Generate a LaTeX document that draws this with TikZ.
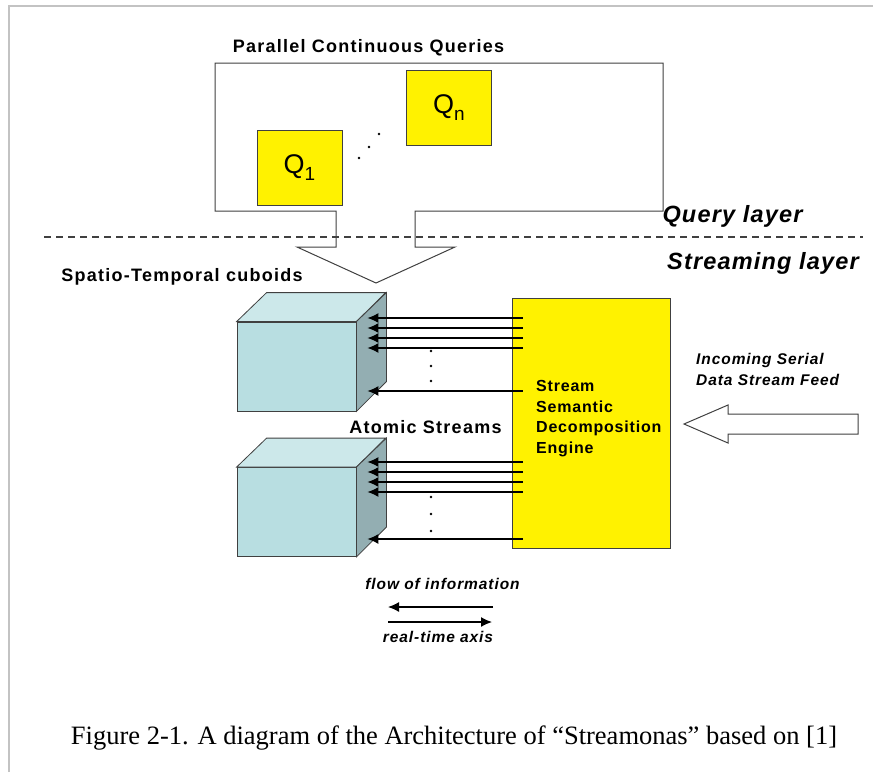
\documentclass[tikz,border=0pt]{standalone}
\usepackage{fontspec}
\setmainfont{Liberation Sans}
\newfontfamily\capfont{Liberation Serif}
\usetikzlibrary{arrows.meta}
\definecolor{cubefront}{HTML}{B8DEE1}
\definecolor{cubetop}{HTML}{CCE8EA}
\definecolor{cubeside}{HTML}{93AEB2}
\definecolor{edge}{HTML}{404040}
\definecolor{framegray}{HTML}{C3C3C3}
\tikzset{
  lbl/.style={inner sep=0pt, font=\fontsize{18}{21}\selectfont\bfseries\addfontfeature{LetterSpace=7}},
  layerlbl/.style={inner sep=0pt, font=\fontsize{23.5}{27}\selectfont\bfseries\itshape\addfontfeature{LetterSpace=5}},
  smalllbl/.style={inner sep=0pt, font=\fontsize{15.5}{21}\selectfont\bfseries\itshape\addfontfeature{LetterSpace=6}},
  enginelbl/.style={inner sep=0pt, align=left, font=\fontsize{16}{20.7}\selectfont\bfseries\addfontfeature{LetterSpace=5}},
  qbox/.style={draw=edge, line width=1pt, fill=yellow, minimum width=85pt, minimum height=75pt, inner sep=0pt},
  front/.style={draw=edge, line width=0.8pt, fill=cubefront, minimum width=119pt, minimum height=89pt, inner sep=0pt},
  stream/.style={line width=1.3pt, -{Latex[length=11pt,width=10pt]}},
  axis/.style={line width=1.3pt, -{Latex[length=11pt,width=10pt]}},
  dotmark/.style={fill=black, circle, inner sep=0pt, minimum size=2.8pt},
}
\begin{document}
\begin{tikzpicture}[x=1pt, y=-1pt]
\useasboundingbox (0,0) rectangle (873,772);
% frame
\draw[framegray, line width=2pt] (9,772) -- (9,6) -- (873,6);

% query layer
\node[lbl, anchor=base] (pcq) at (368.5,52) {Parallel Continuous Queries};
\draw[edge, line width=1pt, fill=white] (215,63) -- (663,63) -- (663,211) -- (415,211) -- (415,247) -- (455,247) -- (376,283) -- (297,247) -- (336,247) -- (336,211) -- (215,211) -- cycle;
\node[qbox] (q1) at (299.5,167.5) {};
\node[qbox] (qn) at (449,107.5) {};
\node (q1t) at (q1) {\fontsize{27}{27}\selectfont Q\raisebox{-7pt}{\fontsize{19}{19}\selectfont 1}};
\node (qnt) at (qn) {\fontsize{27}{27}\selectfont Q\raisebox{-7pt}{\fontsize{19}{19}\selectfont n}};
\node[dotmark] (qd1) at (359,158) {};
\node[dotmark] (qd2) at (369,147) {};
\node[dotmark] (qd3) at (379,134) {};

% layer separation
\draw[edge, line width=1.5pt, dash pattern=on 7pt off 5pt] (44,237) -- (863,237);
\node[layerlbl, anchor=base] (ql) at (732.5,222) {Query layer};
\node[layerlbl, anchor=base] (sl) at (763,269) {Streaming layer};

\node[lbl, anchor=base] (stc) at (182,281) {Spatio-Temporal cuboids};

% cubes
\node[front] (cubeA) at (296.5,366.5) {};
\node[front] (cubeB) at (296.5,512) {};
\foreach \c in {cubeA,cubeB}{
  \draw[edge, line width=0.8pt, fill=cubetop] (\c.north west) -- ++(30,-29) -- ++(119,0) -- (\c.north east) -- cycle;
  \draw[edge, line width=0.8pt, fill=cubeside] (\c.north east) -- ++(30,-29) -- ++(0,89) -- (\c.south east) -- cycle;
}

% engine
\node[draw=edge, line width=1pt, fill=yellow, minimum width=158pt, minimum height=250pt, inner sep=0pt] (engine) at (591,423) {};
\node[enginelbl, anchor=north west] (enginet) at (536,380) {Stream\\Semantic\\Decomposition\\Engine};

% streams
\foreach \y in {318,328,338,348,391,462,472,482,492,539}{
  \draw[stream] ([xshift=11pt]engine.west |- 0,\y) -- ([xshift=11pt]cubeA.east |- 0,\y);
}
\foreach \y [count=\i] in {351,366,381,497,514,531}{
  \node[dotmark] (sd\i) at (431,\y) {};
}
\node[lbl, anchor=base] (atomic) at (425.5,433) {Atomic Streams};

% incoming feed
\node[smalllbl, align=left, anchor=north west] (feedt) at (696,353) {Incoming Serial\\Data Stream Feed};
\draw[edge, line width=1pt, fill=white] (684,424) -- (728,405) -- (728,414) -- (858,414) -- (858,434) -- (728,434) -- (728,443) -- cycle;

% axis legend
\node[smalllbl, anchor=base] (flow) at (442.5,589) {flow of information};
\coordinate (fa) at (493,607);
\coordinate (fb) at (388,607);
\draw[axis] (fa) -- (fb);
\coordinate (ra) at (388,622);
\coordinate (rb) at (492,622);
\draw[axis] (ra) -- (rb);
\node[smalllbl, anchor=base] (rt) at (438,642) {real-time axis};

% caption
\node[inner sep=0pt, anchor=base, font=\capfont\fontsize{26.5}{30}\selectfont] (cap) at (454,744) {Figure 2-1. A diagram of the Architecture of “Streamonas” based on [1]};
\end{tikzpicture}
\end{document}
